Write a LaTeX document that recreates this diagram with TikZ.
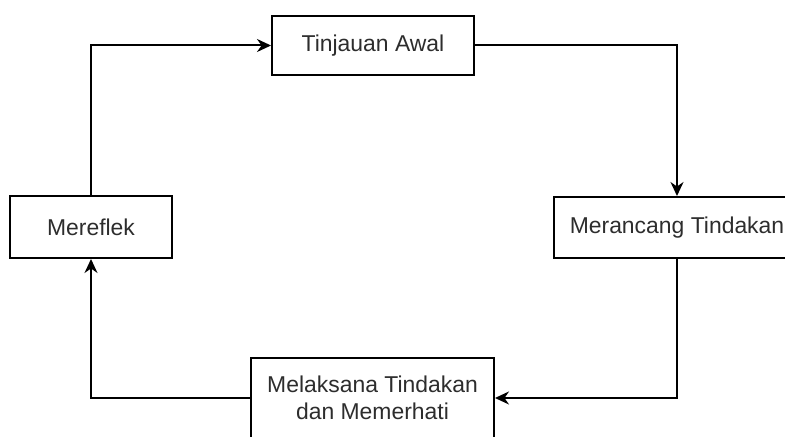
\documentclass[tikz,border=0pt]{standalone}
\usepackage{fontspec}
\setmainfont{Liberation Sans}
\usepackage{xcolor}
\usetikzlibrary{arrows.meta}

\definecolor{textgray}{RGB}{45,45,45}

\tikzset{
    box/.style={draw, line width=2bp, fill=white, inner sep=0pt, align=center,
        text=textgray, font=\fontsize{23}{27}\selectfont},
    arr/.style={-{Stealth[length=14bp, width=13bp]}, line width=2bp}
}

\begin{document}
\begin{tikzpicture}[x=1bp, y=-1bp]
    \useasboundingbox (0,0) rectangle (785,437);
    \clip (0,0) rectangle (785,437);
    \fill[white] (0,0) rectangle (785,437);

    \node[box, minimum width=202bp, minimum height=59bp] (tinjauan) at (373,45.5) {Tinjauan Awal};
    \node[box, minimum width=246bp, minimum height=61bp] (merancang) at (677,227.5) {Merancang Tindakan};
    \node[box, minimum width=243bp, minimum height=80bp] (melaksana) at (372.5,398) {Melaksana Tindakan\\dan Memerhati};
    \node[box, minimum width=162bp, minimum height=62bp] (mereflek) at (91,227) {Mereflek};

    \draw[arr] (tinjauan.east) -| (merancang.north);
    \draw[arr] (merancang.south) |- (melaksana.east);
    \draw[arr] (melaksana.west) -| (mereflek.south);
    \draw[arr] (mereflek.north) |- (tinjauan.west);
\end{tikzpicture}
\end{document}
